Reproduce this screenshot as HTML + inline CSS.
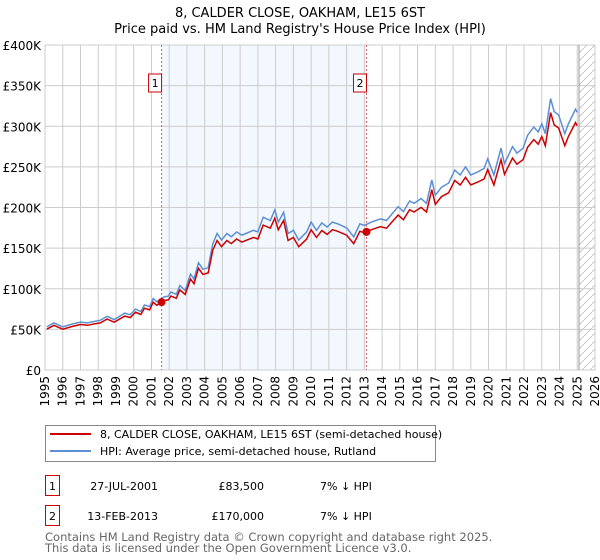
<!DOCTYPE html>
<html><head><meta charset="utf-8">
<style>
body{margin:0;background:#fff;font-family:"DejaVu Sans","Liberation Sans",sans-serif;}
#wrap{position:relative;width:600px;height:560px;overflow:hidden;}
svg text{font-family:"DejaVu Sans","Liberation Sans",sans-serif;}
</style></head><body>
<div id="wrap">
<svg id="chart" width="600" height="560"></svg>
</div>
<script>
const hpiYears=[1995.1,1995.5,1996.0,1996.6,1997.0,1997.4,1997.8,1998.1,1998.5,1998.9,1999.5,1999.8,2000.1,2000.4,2000.6,2000.9,2001.1,2001.3,2001.7,2001.95,2002.1,2002.4,2002.6,2002.9,2003.2,2003.4,2003.65,2003.9,2004.2,2004.45,2004.7,2004.95,2005.25,2005.5,2005.8,2006.1,2006.75,2007.0,2007.3,2007.7,2007.95,2008.15,2008.45,2008.7,2009.0,2009.3,2009.75,2010.0,2010.3,2010.6,2010.9,2011.2,2011.5,2012.0,2012.4,2012.75,2013.0,2013.4,2013.9,2014.25,2014.9,2015.2,2015.55,2015.8,2016.2,2016.5,2016.8,2017.0,2017.35,2017.75,2018.1,2018.4,2018.7,2019.0,2019.4,2019.75,2019.95,2020.3,2020.7,2020.9,2021.35,2021.6,2021.95,2022.2,2022.55,2022.8,2023.0,2023.2,2023.5,2023.7,2023.95,2024.3,2024.5,2024.9,2025.0];
const hpiValues=[53,58,53,57,59,58,60,61,66,62,70,68,75,72,80,78,88,84,90,91,96,93,104,98,118,112,132,124,126,155,168,160,168,164,170,166,172,170,188,184,197,182,194,168,172,160,170,182,172,181,176,182,180,175,164,180,178,182,186,184,201,195,208,205,211,205,234,215,225,230,246,240,250,240,244,248,260,240,273,254,275,267,273,289,299,293,303,291,334,318,314,291,303,321,317];
const saleYears=[2001.57,2013.12];
const salePrices=[83500,170000];
const saleLabels=["1","2"];
const yTicks=[0,50,100,150,200,250,300,350,400];
const xTicks=[];for(let y=1995;y<=2026;y++)xTicks.push(y);

const NS="http://www.w3.org/2000/svg";
const svg=document.getElementById('chart');
const L=45,R=595,T=45,B=370,Y0=1995,Y1=2026,VMAX=400;
const xs=y=>L+(y-Y0)/(Y1-Y0)*(R-L);
const ys=v=>B-v/VMAX*(B-T);
function mk(t,a,p){const e=document.createElementNS(NS,t);for(const k in a)e.setAttribute(k,a[k]);(p||svg).appendChild(e);return e;}
function hpiAt(y){for(let i=0;i<hpiYears.length-1;i++){if(y>=hpiYears[i]&&y<=hpiYears[i+1]){const f=(y-hpiYears[i])/(hpiYears[i+1]-hpiYears[i]);return hpiValues[i]+f*(hpiValues[i+1]-hpiValues[i]);}}return hpiValues[hpiValues.length-1];}

let t=mk('text',{x:300,y:17,'text-anchor':'middle','font-size':13,fill:'#000'});t.textContent='8, CALDER CLOSE, OAKHAM, LE15 6ST';

t=mk('text',{x:300,y:33,'text-anchor':'middle','font-size':13,fill:'#000'});t.textContent="Price paid vs. HM Land Registry's House Price Index (HPI)";


let sh=mk('rect',{x:xs(saleYears[0]),y:T,width:xs(saleYears[1])-xs(saleYears[0]),height:B-T,fill:'#eef3fd',opacity:0.7});

const defs=mk('defs',{});
const pat=mk('pattern',{id:'hatch',width:8,height:8,patternUnits:'userSpaceOnUse'},defs);
mk('path',{d:'M0,8 L8,0',stroke:'#c8c8c8','stroke-width':1},pat);
let hx=xs(2025.1);
let ht=mk('rect',{x:hx,y:T,width:R-hx,height:B-T,fill:'url(#hatch)'});


yTicks.forEach(v=>{const l=mk('line',{x1:L,x2:R,y1:ys(v),y2:ys(v),stroke:'#cccccc','stroke-width':1});

const tx=mk('text',{x:L-4,y:ys(v)+5,'text-anchor':'end','font-size':12,fill:'#000'});tx.textContent=v===0?'£0':'£'+v+'K';
});
xTicks.forEach(y=>{const l=mk('line',{x1:xs(y),x2:xs(y),y1:T,y2:B,stroke:'#cccccc','stroke-width':1});

const tx=mk('text',{x:0,y:0,'text-anchor':'end','font-size':12,fill:'#000',transform:`translate(${xs(y)+4},${B+6}) rotate(-90)`});tx.textContent=y;
});
let bd=mk('rect',{x:L,y:T,width:R-L,height:B-T,fill:'none',stroke:'#cccccc'});

let vl=mk('line',{x1:hx,x2:hx,y1:T,y2:B,stroke:'#999','stroke-width':1});


saleYears.forEach((y,i)=>{const l=mk('line',{x1:xs(y),x2:xs(y),y1:T,y2:B,stroke:'#e06060','stroke-width':1,'stroke-dasharray':'2,2'});

const b=mk('rect',{x:xs(y)-13,y:74,width:13,height:18,fill:'#fff',stroke:'#cc0000'});

const tx=mk('text',{x:xs(y)-6.5,y:87,'text-anchor':'middle','font-size':11,fill:'#000'});tx.textContent=saleLabels[i];
});

let dH=hpiYears.map((y,i)=>(i?'L':'M')+xs(y).toFixed(1)+','+ys(hpiValues[i]).toFixed(1)).join('');
let ph=mk('path',{d:dH,fill:'none',stroke:'#5b8fd4','stroke-width':1.5});

const ratios=saleYears.map((s,i)=>salePrices[i]/1000/hpiAt(s));
const avgRatio=ratios.reduce((a,b)=>a+b,0)/ratios.length;
let dP=hpiYears.map((y,i)=>(i?'L':'M')+xs(y).toFixed(1)+','+ys(hpiValues[i]*avgRatio).toFixed(1)).join('');
let pp=mk('path',{d:dP,fill:'none',stroke:'#cc0000','stroke-width':1.5});

saleYears.forEach((y,i)=>{const c=mk('circle',{cx:xs(y),cy:ys(salePrices[i]/1000),r:4,fill:'#cc0000'});
});

let lg=mk('rect',{x:45.5,y:425.5,width:390,height:36,fill:'#fff',stroke:'#888'});

mk('line',{x1:50,x2:91,y1:434,y2:434,stroke:'#cc0000','stroke-width':2});
t=mk('text',{x:100,y:438,'font-size':11,fill:'#000'});t.textContent='8, CALDER CLOSE, OAKHAM, LE15 6ST (semi-detached house)';

mk('line',{x1:50,x2:91,y1:451,y2:451,stroke:'#5b8fd4','stroke-width':2});
t=mk('text',{x:100,y:455,'font-size':11,fill:'#000'});t.textContent='HPI: Average price, semi-detached house, Rutland';


const rows=[["1","27-JUL-2001","£83,500","7% ↓ HPI"],["2","13-FEB-2013","£170,000","7% ↓ HPI"]];
rows.forEach((r,i)=>{const y0=475+i*30;
const b=mk('rect',{x:45.5,y:y0+0.5,width:14,height:20,fill:'#fff',stroke:'#cc0000'});

let a=mk('text',{x:52.5,y:y0+15,'text-anchor':'middle','font-size':11});a.textContent=r[0];

a=mk('text',{x:158,y:y0+15,'text-anchor':'end','font-size':11});a.textContent=r[1];

a=mk('text',{x:264,y:y0+15,'text-anchor':'end','font-size':11});a.textContent=r[2];

a=mk('text',{x:320,y:y0+15,'font-size':11});a.textContent=r[3];
});

t=mk('text',{x:45,y:541,'font-size':11.5,fill:'#666'});t.textContent='Contains HM Land Registry data © Crown copyright and database right 2025.';

t=mk('text',{x:45,y:552,'font-size':11.5,fill:'#666'});t.textContent='This data is licensed under the Open Government Licence v3.0.';

</script>
</body></html>
